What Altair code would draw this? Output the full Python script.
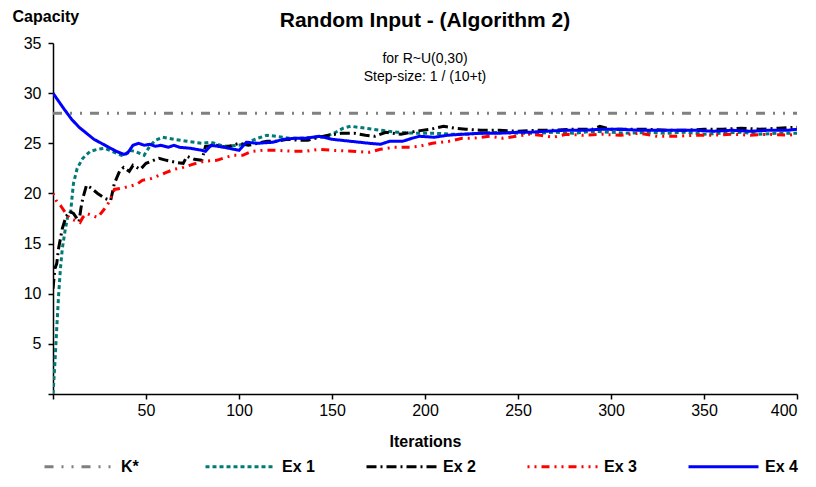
import altair as alt
import pandas as pd

# ---------------- data ----------------
series_names = ["K*", "Ex 1", "Ex 2", "Ex 3", "Ex 4"]

kstar_t = [0, 400]
kstar_v = [28, 28]

ex1_t = [0, 1, 2, 3, 4, 5, 6.5, 8, 9.5, 11, 13, 16, 20, 24, 28, 33, 38, 41, 44, 49, 52, 55, 59, 65, 72,
         80, 85, 92, 100, 105, 110, 115, 120, 127, 133, 140, 147, 152, 156, 160, 168, 176, 185, 195, 205,
         215, 222, 230, 240, 250, 260, 270, 280, 290, 300, 310, 320, 330, 340, 350, 360, 370, 380, 390, 400]
ex1_v = [0, 3, 6.5, 9.8, 12.5, 14.5, 16.3, 17.8, 18.2, 21, 22.5, 23.5, 24.2, 24.4, 24.5, 24.1, 23.7, 24.3,
         24.2, 23.8, 24.7, 25.3, 25.6, 25.4, 25.2, 25.0, 25.1, 24.7, 24.8, 25.1, 25.5, 25.8, 25.7, 25.5,
         25.5, 25.6, 25.7, 26.1, 26.5, 26.7, 26.5, 26.3, 26.1, 26.0, 26.0, 25.9, 25.9, 26.0, 26.1, 26.0,
         26.0, 26.1, 26.0, 26.2, 26.1, 26.0, 26.1, 26.0, 26.1, 25.9, 26.0, 26.1, 25.9, 26.0, 26.0]

ex2_t = [0, 1, 2, 3, 4, 5, 7, 9, 11, 14, 15, 16, 18, 20, 24, 28, 31, 33, 36, 38, 41, 43, 47, 50, 54, 57,
         61, 66, 70, 72, 76, 80, 82, 88, 93, 100, 105, 110, 115, 120, 126, 132, 137, 143, 148, 155, 162,
         168, 173, 179, 187, 195, 203, 210, 216, 222, 230, 240, 250, 260, 270, 280, 290, 294, 300, 310,
         320, 330, 340, 350, 360, 370, 380, 390, 400]
ex2_v = [10.5, 12.5, 13, 14.5, 15.5, 16.5, 17.7, 18.2, 18.0, 17.2, 18.5, 19.5, 20.8, 20.6, 20.0, 19.5,
         19.3, 21, 22.3, 22.6, 22.2, 22.8, 22.4, 23.0, 23.3, 23.5, 23.3, 23.1, 23.0, 23.7, 23.4, 23.3,
         24.7, 24.8, 24.6, 25.0, 24.8, 25.0, 25.2, 25.2, 25.4, 25.3, 25.3, 25.6, 25.8, 26.0, 26.0, 25.8,
         25.7, 26.1, 25.9, 26.2, 26.4, 26.7, 26.5, 26.4, 26.3, 26.3, 26.2, 26.3, 26.3, 26.4, 26.4, 26.7,
         26.4, 26.4, 26.4, 26.3, 26.3, 26.4, 26.4, 26.5, 26.4, 26.5, 26.6]

ex3_t = [0, 2, 4, 7, 9, 12, 14.5, 16, 18, 21, 24, 27, 29, 31, 33, 36, 41, 45, 48, 53, 57, 61, 65, 70, 75,
         81, 88, 93, 97, 102, 107, 113, 120, 129, 136, 143, 150, 161, 170, 176, 183, 192, 197, 204, 213,
         220, 226, 235, 242, 249, 256, 262, 269, 276, 285, 295, 305, 315, 325, 335, 345, 355, 365, 375,
         385, 395, 400]
ex3_v = [20, 19.2, 18.8, 18, 17.5, 17.3, 17.1, 17.6, 18.0, 17.8, 17.6, 18.3, 18.8, 19.4, 20.4, 20.5, 20.7,
         20.9, 21.3, 21.5, 21.8, 22.1, 22.4, 22.6, 22.9, 23.2, 23.3, 23.6, 23.8, 23.8, 24.2, 24.3, 24.3,
         24.2, 24.2, 24.4, 24.3, 24.2, 24.1, 24.4, 24.6, 24.6, 24.7, 25.0, 25.2, 25.5, 25.5, 25.7, 25.5,
         25.7, 25.9, 25.8, 25.6, 25.9, 25.8, 25.9, 25.8, 26.0, 25.7, 25.7, 25.8, 25.8, 25.9, 25.8, 25.9,
         25.8, 25.9]

ex4_t = [0, 3, 6, 10, 14, 18, 22, 26, 30, 34, 38, 40, 43, 46, 49, 52, 55, 58, 62, 65, 68, 74, 80, 82, 85,
         92, 100, 104, 110, 118, 124, 130, 136, 143, 150, 160, 170, 176, 181, 188, 193, 197, 205, 212,
         220, 230, 240, 250, 256, 265, 275, 285, 295, 305, 315, 325, 335, 345, 355, 365, 375, 385, 395, 400]
ex4_v = [30, 29.2, 28.4, 27.4, 26.6, 26.0, 25.4, 25.0, 24.6, 24.2, 23.9, 24.0, 24.8, 25.0, 24.8, 24.9,
         24.7, 24.8, 24.6, 24.8, 24.6, 24.5, 24.3, 24.2, 24.8, 24.6, 24.3, 25.1, 25.0, 25.1, 25.4, 25.5,
         25.5, 25.7, 25.4, 25.2, 25.0, 24.9, 25.2, 25.2, 25.5, 25.7, 25.6, 25.8, 25.9, 26.0, 26.0, 26.1,
         26.1, 26.2, 26.3, 26.3, 26.4, 26.4, 26.3, 26.3, 26.3, 26.3, 26.2, 26.3, 26.2, 26.3, 26.3, 26.4]

x_ticks = [0, 50, 100, 150, 200, 250, 300, 350, 400]
y_ticks = [0, 5, 10, 15, 20, 25, 30, 35]

title_text = "Random Input - (Algorithm 2)"
note_lines = ["for R~U(0,30)", "Step-size: 1 / (10+t)"]

# ---------------- build table ----------------
frames = []
for name, ts, vs in [("K*", kstar_t, kstar_v), ("Ex 1", ex1_t, ex1_v), ("Ex 2", ex2_t, ex2_v),
                     ("Ex 3", ex3_t, ex3_v), ("Ex 4", ex4_t, ex4_v)]:
    frames.append(pd.DataFrame({"t": ts, "value": vs, "series": name}))
df = pd.concat(frames, ignore_index=True)

FONT = "Liberation Sans"
colors = ["#808080", "#007A76", "#000000", "#FF0000", "#0000FF"]
dashes = [[9, 8, 2, 8, 2, 8], [4, 3], [10, 4, 2, 4], [2, 5, 2, 5, 8, 5], [1, 0]]

lines = alt.Chart(df).mark_line(strokeWidth=3, clip=True).encode(
    x=alt.X("t:Q",
            scale=alt.Scale(domain=[0, 400], nice=False),
            axis=alt.Axis(values=x_ticks, title="Iterations", grid=False,
                          labelExpr="datum.value == 0 ? '' : datum.label",
                          tickSize=5, labelPadding=3, titlePadding=15)),
    y=alt.Y("value:Q",
            scale=alt.Scale(domain=[0, 35], nice=False),
            axis=alt.Axis(values=y_ticks, title="Capacity", grid=False,
                          labelExpr="datum.value == 0 ? '' : datum.label",
                          tickSize=5, labelPadding=7,
                          titleAngle=0, titleAlign="left", titleBaseline="middle",
                          titleX=-41, titleY=-27)),
    color=alt.Color("series:N", scale=alt.Scale(domain=series_names, range=colors),
                    legend=alt.Legend(title=None)),
    strokeDash=alt.StrokeDash("series:N", scale=alt.Scale(domain=series_names, range=dashes),
                              legend=alt.Legend(title=None)),
    detail="series:N",
)

notes = alt.Chart(pd.DataFrame({"a": [1]})).mark_text(
    text=note_lines, font=FONT, fontSize=14, lineHeight=18, baseline="top", align="center"
).encode(x=alt.value(372), y=alt.value(9))

chart = alt.layer(lines, notes).properties(
    width=744, height=351,
    title=alt.TitleParams(title_text, font=FONT, fontSize=21, fontWeight="bold",
                          anchor="middle", frame="group", dy=27),
    autosize=alt.AutoSizeParams(type="none"),
    padding={"left": 45, "top": 35, "right": 11, "bottom": 85},
).configure_view(stroke=None).configure_axis(
    domainColor="black", tickColor="black", labelColor="black", titleColor="black",
    labelFont=FONT, titleFont=FONT, labelFontSize=16, titleFontSize=16, titleFontWeight="bold",
    domainWidth=1.5, tickWidth=1.5,
).configure_legend(
    orient="none", legendX=-10, legendY=387, direction="horizontal", columns=5,
    gridAlign="all", columnPadding=45, symbolType="stroke", symbolSize=4900,
    symbolStrokeWidth=3, labelFont=FONT, labelFontSize=16, labelFontWeight="bold",
    labelColor="black", labelOffset=5,
)

chart.save("out.html", embed_options={"renderer": "svg", "actions": False})
